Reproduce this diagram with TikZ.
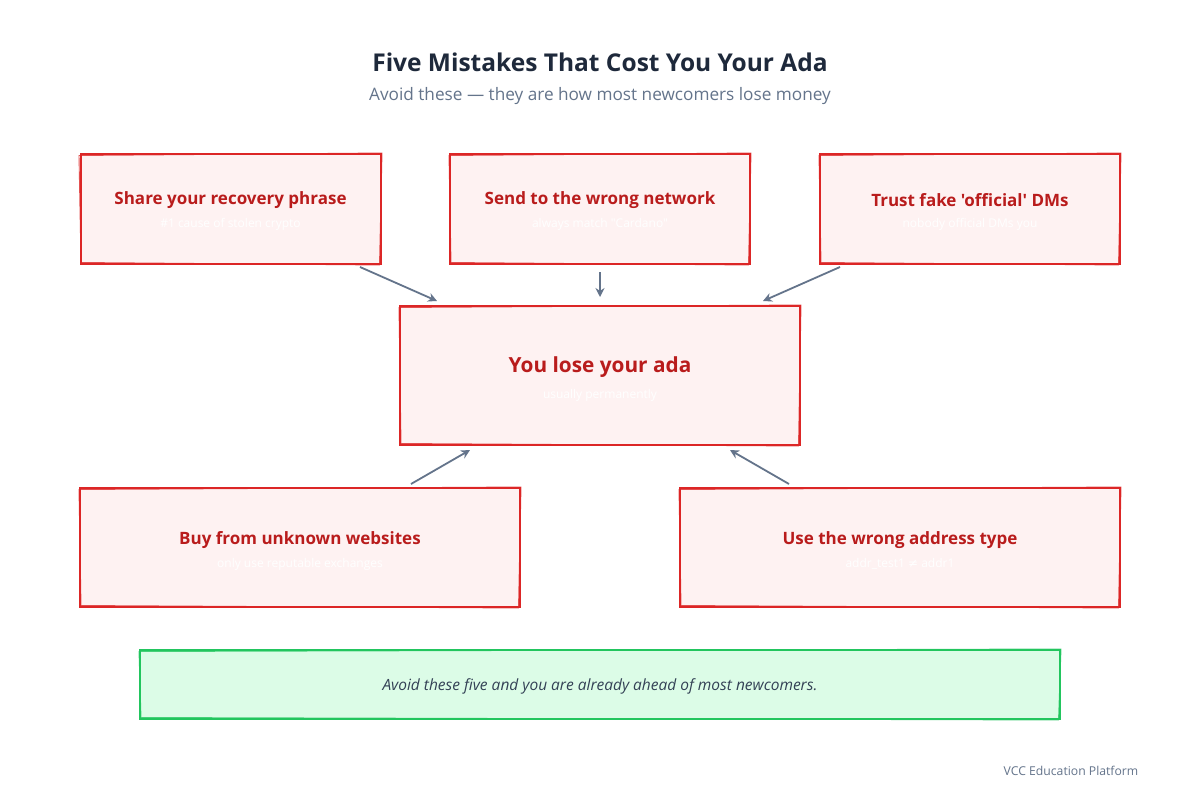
\documentclass[tikz,border=0pt]{standalone}
\usepackage{fontspec}
\newfontfamily\uifont{Open Sans}
\newfontfamily\symf{DejaVu Sans}
\usetikzlibrary{arrows.meta}
\definecolor{redline}{HTML}{DC2626}
\definecolor{redfill}{HTML}{FEF2F2}
\definecolor{redtext}{HTML}{B91C1C}
\definecolor{greenline}{HTML}{22C55E}
\definecolor{greenfill}{HTML}{DCFCE7}
\definecolor{slatetext}{HTML}{334155}
\definecolor{titletext}{HTML}{1E293B}
\definecolor{subtext}{HTML}{64748B}
\definecolor{arrowcol}{HTML}{64748B}
\tikzset{
  x=1pt, y=-1pt,
  redbox/.style={draw=redline, fill=redfill, line width=2pt, inner sep=0pt},
  greenbox/.style={draw=greenline, fill=greenfill, line width=2pt, inner sep=0pt},
  sketch/.style={line width=0.9pt, opacity=0.8},
  boxtitle/.style={text=redtext, font=\uifont\bfseries\fontsize{17}{20}\selectfont, inner sep=0pt},
  bigtitle/.style={text=redtext, font=\uifont\bfseries\fontsize{20.8}{25}\selectfont, inner sep=0pt},
  boxsub/.style={text=white, font=\uifont\fontsize{12}{14}\selectfont, inner sep=0pt},
  conn/.style={draw=arrowcol, line width=1.8pt, -{Stealth[length=9pt,width=9pt]}},
}
\newcommand{\sketchbox}[5]{%
  \draw[sketch, draw=#5] (#1-1,#2+1.5) -- (#3+1,#2-1) -- (#3-1.5,#4+1) -- (#1+1,#4-1.5) -- cycle;
}
\begin{document}
\begin{tikzpicture}
\useasboundingbox (0,0) rectangle (1200,800);
\fill[white] (0,0) rectangle (1200,800);

\node[text=titletext, font=\uifont\bfseries\fontsize{24.5}{29}\selectfont, inner sep=0pt] (title) at (600,62) {Five Mistakes That Cost You Your Ada};
\node[text=subtext, font=\uifont\fontsize{17.2}{21}\selectfont, inner sep=0pt] (subtitle) at (600,96) {Avoid these — they are how most newcomers lose money};

% boxes
\node[redbox, minimum width=300pt, minimum height=110pt] (b1) at (230.5,209) {};
\sketchbox{80}{154}{381}{264}{redline}
\node[boxtitle] (t1) at (230.5,200) {Share your recovery phrase};
\node[boxsub] (s1) at (230.5,224) {\#1 cause of stolen crypto};

\node[redbox, minimum width=300pt, minimum height=110pt] (b2) at (600,209) {};
\sketchbox{450}{154}{750}{264}{redline}
\node[boxtitle] (t2) at (600,200) {Send to the wrong network};
\node[boxsub] (s2) at (600,224) {always match "Cardano"};

\node[redbox, minimum width=300pt, minimum height=110pt] (b3) at (970,209) {};
\sketchbox{820}{154}{1120}{264}{redline}
\node[boxtitle] (t3) at (970,200) {Trust fake 'official' DMs};
\node[boxsub] (s3) at (970,224) {nobody official DMs you};

\node[redbox, minimum width=400pt, minimum height=139pt] (c) at (600,375.5) {};
\sketchbox{400}{306}{800}{445}{redline}
\node[bigtitle] (tc) at (600,367) {You lose your ada};
\node[boxsub] (sc) at (600,395) {usually permanently};

\node[redbox, minimum width=440pt, minimum height=119pt] (b4) at (300,547.5) {};
\sketchbox{80}{488}{520}{607}{redline}
\node[boxtitle] (t4) at (300,540) {Buy from unknown websites};
\node[boxsub] (s4) at (300,564) {only use reputable exchanges};

\node[redbox, minimum width=440pt, minimum height=119pt] (b5) at (900,547.5) {};
\sketchbox{680}{488}{1120}{607}{redline}
\node[boxtitle] (t5) at (900,540) {Use the wrong address type};
\node[boxsub] (s5) at (900,564) {addr\_test1 {\symf ≠} addr1};

\node[greenbox, minimum width=920pt, minimum height=69pt] (g) at (600,684.5) {};
\sketchbox{140}{650}{1060}{719}{greenline}
\node[text=slatetext, font=\uifont\itshape\fontsize{15.5}{18}\selectfont, inner sep=0pt] (gt) at (600,686) {Avoid these five and you are already ahead of most newcomers.};

\node[text=subtext, font=\uifont\fontsize{12.2}{15}\selectfont, inner sep=0pt] (footer) at (1071,771) {VCC Education Platform};

% connectors
\coordinate (a1s) at (360,267); \coordinate (a1e) at (437,301);
\coordinate (a2s) at (600,272); \coordinate (a2e) at (600,297);
\coordinate (a3s) at (840,267); \coordinate (a3e) at (763,301);
\coordinate (a4s) at (411,484); \coordinate (a4e) at (470,450);
\coordinate (a5s) at (789,484); \coordinate (a5e) at (730,450);
\draw[conn] (a1s) -- (a1e);
\draw[conn] (a2s) -- (a2e);
\draw[conn] (a3s) -- (a3e);
\draw[conn] (a4s) -- (a4e);
\draw[conn] (a5s) -- (a5e);
\end{tikzpicture}
\end{document}
